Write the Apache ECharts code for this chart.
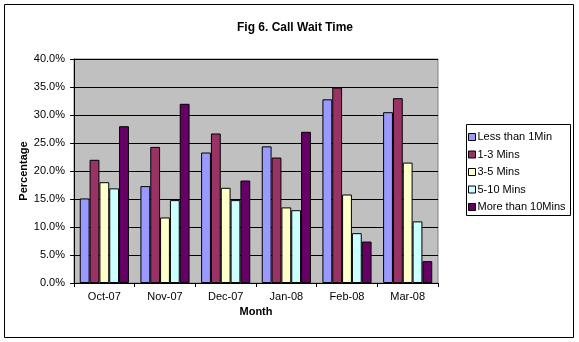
<!DOCTYPE html>
<html><head><meta charset="utf-8">
<script src="https://cdn.jsdelivr.net/npm/echarts@6/dist/echarts.min.js"></script>
<style>html,body{margin:0;padding:0;background:#fff}#c{width:579px;height:342px}</style>
</head><body><div id="c"></div>
<script>
const months = ['Oct-07','Nov-07','Dec-07','Jan-08','Feb-08','Mar-08'];
const seriesNames = ['Less than 1Min','1-3 Mins','3-5 Mins','5-10 Mins','More than 10Mins'];
const lessThan1 = [15.1, 17.3, 23.3, 24.4, 32.8, 30.5];
const mins1to3 = [22.0, 24.3, 26.7, 22.4, 34.9, 33.0];
const mins3to5 = [18.0, 11.7, 17.0, 13.5, 15.8, 21.5];
const mins5to10 = [16.9, 14.8, 14.8, 13.0, 8.9, 11.0];
const moreThan10 = [28.0, 32.0, 18.3, 27.0, 7.4, 3.9];
const colors = ['#9999FF','#993366','#FFFFCC','#CCFFFF','#660066'];
const values = [lessThan1, mins1to3, mins3to5, mins5to10, moreThan10];
const font = 'Liberation Sans, Arial, sans-serif';

const chart = echarts.init(document.getElementById('c'), null, {renderer:'canvas'});
chart.setOption({
  animation: false,
  textStyle: {fontFamily: font},
  title: {text: 'Fig 6. Call Wait Time', left: 290, top: 17, textAlign: 'center',
    textStyle: {fontSize: 12, fontWeight: 'bold', color: '#000', fontFamily: font}},
  grid: {left: 74, top: 59, right: 141, bottom: 59, show: true, backgroundColor: '#C0C0C0', borderColor: '#808080', borderWidth: 1},
  legend: {orient: 'vertical', left: 468, top: 131, itemWidth: 7, itemHeight: 7, itemGap: 5.5, padding: 0,
    icon: 'rect',
    itemStyle: {borderColor: '#000', borderWidth: 1},
    textStyle: {fontSize: 11, color: '#000', fontFamily: font, lineHeight: 12, padding: [0,0,0,-3]},
    data: seriesNames},
  xAxis: {type: 'category', data: months,
    name: 'Month', nameLocation: 'middle', nameGap: 22,
    nameTextStyle: {fontWeight: 'bold', fontSize: 11, color: '#000'},
    axisLine: {lineStyle: {color: '#000'}},
    axisTick: {show: true, length: 4, alignWithLabel: false, lineStyle: {color: '#000'}},
    axisLabel: {fontSize: 11, color: '#000', margin: 8}},
  yAxis: {type: 'value', min: 0, max: 40, interval: 5,
    name: 'Percentage', nameLocation: 'middle', nameGap: 45, nameRotate: 90, nameMoveOverlap: false,
    nameTextStyle: {fontWeight: 'bold', fontSize: 11, color: '#000'},
    axisLine: {show: true, lineStyle: {color: '#000'}},
    axisTick: {show: true, length: 4, lineStyle: {color: '#000'}},
    axisLabel: {fontSize: 11, color: '#000', margin: 9, formatter: v => v.toFixed(1) + '%'},
    splitLine: {show: true, lineStyle: {color: '#000', width: 1}}},
  graphic: [
    {type: 'rect', shape: {x: 4.5, y: 4.5, width: 569, height: 333}, style: {fill: 'none', stroke: '#000', lineWidth: 1}, silent: true, z: -1},
    {type: 'rect', shape: {x: 466.5, y: 124.5, width: 104, height: 91}, style: {fill: '#fff', stroke: '#000', lineWidth: 1}, silent: true, z: -1}
  ],
  series: seriesNames.map((n, i) => ({
    name: n, type: 'bar', data: values[i], barGap: '0%', barCategoryGap: '19%',
    itemStyle: {color: colors[i], borderColor: '#000', borderWidth: 1}
  }))
});
</script></body></html>
